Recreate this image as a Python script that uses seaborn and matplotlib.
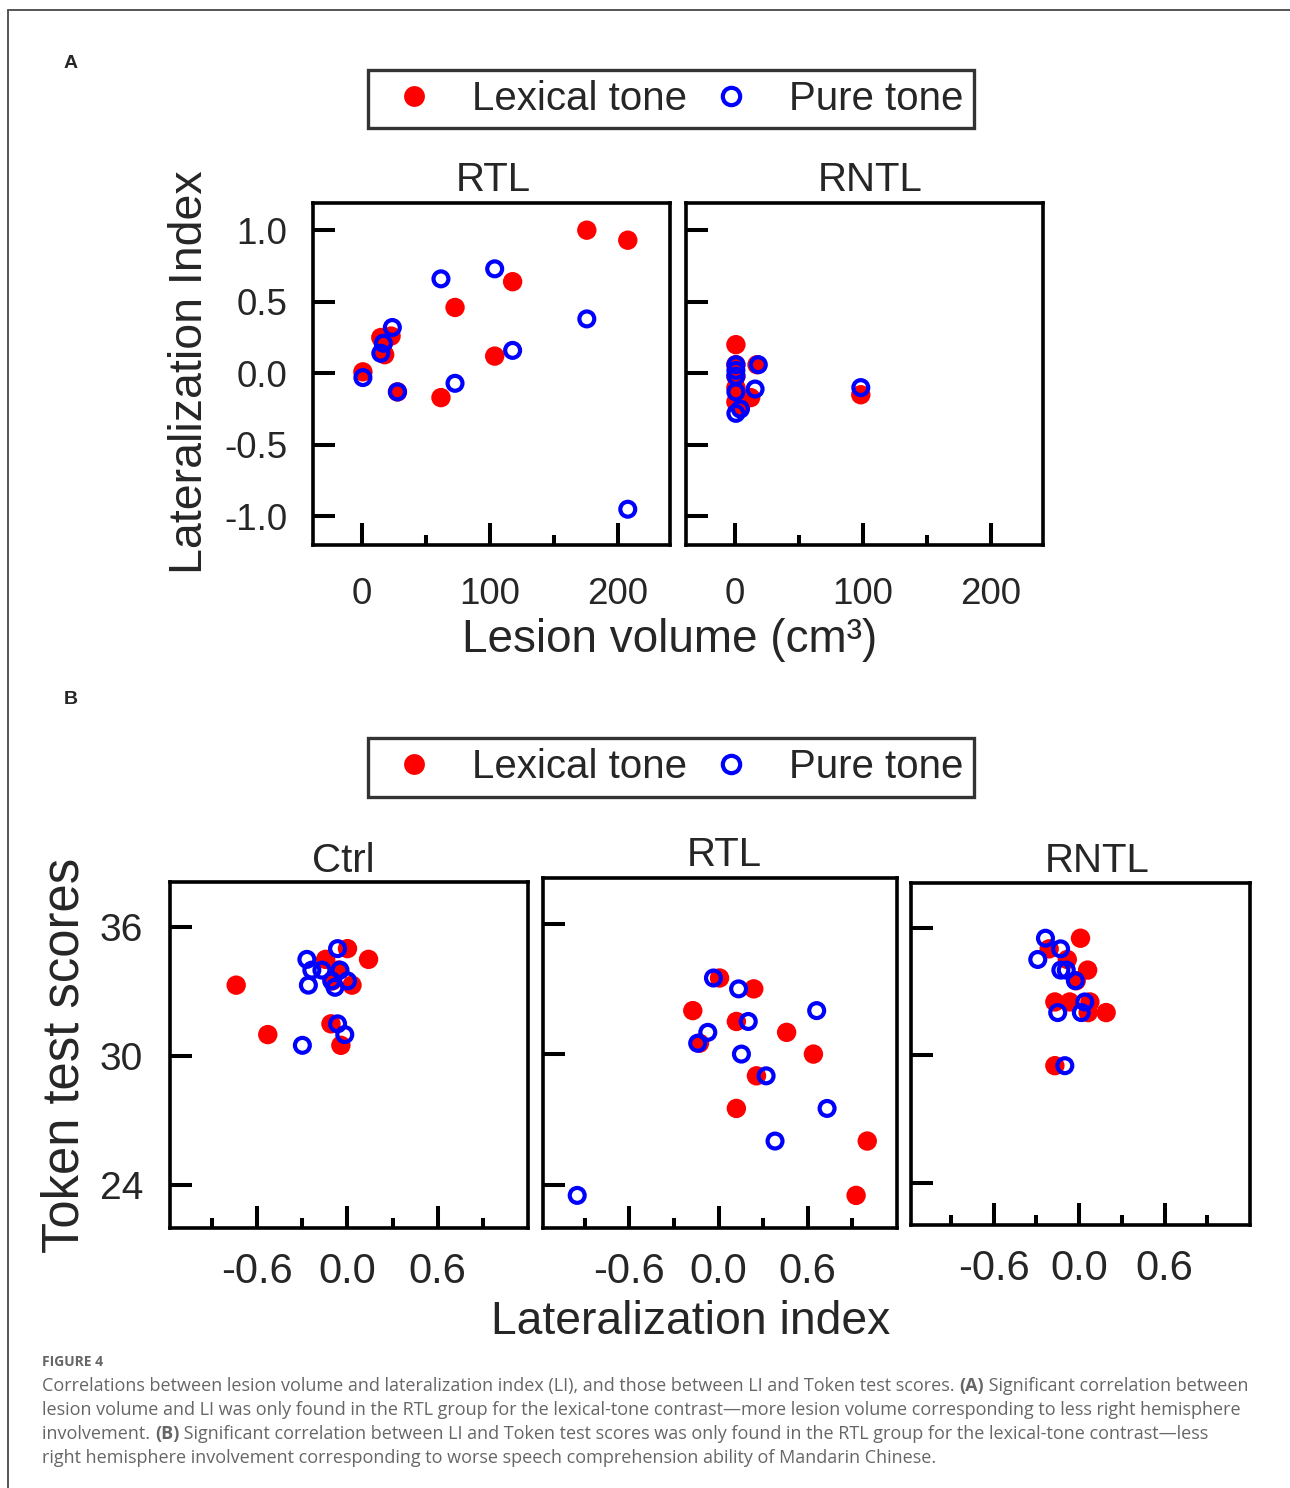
import numpy as np
import matplotlib
matplotlib.use("Agg")
import matplotlib.pyplot as plt
from matplotlib.lines import Line2D
from matplotlib.ticker import FormatStrFormatter
import seaborn as sns

# ---- Panel A: lesion volume (cm3) vs lateralization index ----
rtl_lex_vol = [176, 208, 118, 73, 104, 62, 28, 1, 15, 23, 18, 17]
rtl_lex_li = [1.00, 0.93, 0.64, 0.46, 0.12, -0.17, -0.13, 0.01, 0.25, 0.26, 0.13, 0.21]
rtl_pure_vol = [104, 62, 176, 118, 73, 28, 1, 24, 17, 15, 208]
rtl_pure_li = [0.73, 0.66, 0.38, 0.16, -0.07, -0.13, -0.03, 0.32, 0.21, 0.14, -0.95]

rntl_lex_vol = [1, 1, 17.5, 12.5, 1, 4.5, 1, 1, 98.6]
rntl_lex_li = [0.20, 0.06, 0.06, -0.17, -0.20, -0.24, -0.10, -0.02, -0.15]
rntl_pure_vol = [98.6, 18.5, 16, 1, 1, 1, 1, 4.5, 1]
rntl_pure_li = [-0.10, 0.06, -0.11, -0.28, -0.13, -0.02, 0.06, -0.25, 0.02]

# ---- Panel B: lateralization index vs Token test scores ----
ctrl_lex_li = [-0.74, -0.53, 0.14, 0.0, -0.145, -0.06, 0.03, -0.11, -0.044, -0.10]
ctrl_lex_score = [33.3, 31.0, 34.5, 35.0, 34.5, 34.0, 33.3, 31.5, 30.5, 33.5]
ctrl_pure_li = [-0.066, -0.27, -0.237, -0.17, -0.05, -0.26, -0.105, -0.083, 0.0, -0.066, -0.018, -0.30]
ctrl_pure_score = [35.0, 34.5, 34.0, 34.0, 34.0, 33.3, 33.5, 33.2, 33.5, 31.5, 31.0, 30.5]

rtlb_lex_li = [0.007, 0.237, -0.173, 0.12, 0.458, -0.128, 0.638, 0.255, 0.12, 1.0, 0.925]
rtlb_lex_score = [33.5, 33.0, 32.0, 31.5, 31.0, 30.5, 30.0, 29.0, 27.5, 26.0, 23.5]
rtlb_pure_li = [-0.034, 0.135, 0.66, 0.2, -0.072, -0.14, 0.154, 0.32, 0.73, 0.38, -0.95]
rtlb_pure_score = [33.5, 33.0, 32.0, 31.5, 31.0, 30.5, 30.0, 29.0, 27.5, 26.0, 23.5]

rntlb_lex_li = [0.01, -0.21, -0.083, 0.06, -0.02, -0.17, -0.066, 0.076, 0.19, 0.064, -0.17]
rntlb_lex_score = [35.5, 35.0, 34.5, 34.0, 33.5, 32.5, 32.5, 32.5, 32.0, 32.0, 29.5]
rntlb_pure_li = [-0.236, -0.13, -0.29, -0.128, -0.09, -0.026, 0.04, -0.15, 0.016, -0.1]
rntlb_pure_score = [35.5, 35.0, 34.5, 34.0, 34.0, 33.5, 32.5, 32.0, 32.0, 29.5]

legend_labels = ["Lexical tone", "Pure tone"]

RED = "#FF0000"
BLUE = "#0000FF"
GREY = "#666666"

sns.set_theme(style="white")
plt.rcParams["font.family"] = ["Liberation Sans", "DejaVu Sans"]
plt.rcParams["axes.unicode_minus"] = False

W, H = 1290, 1488
fig = plt.figure(figsize=(W / 100, H / 100), dpi=100)


def px_rect(l, t, r, b):
    return [l / W, 1 - b / H, (r - l) / W, (b - t) / H]


def fx(x):
    return x / W


def fy(y):
    return 1 - y / H


def draw_pair(ax, xl, yl, xp, yp):
    sns.scatterplot(x=xl, y=yl, ax=ax, color=RED, edgecolor="none",
                    s=195, linewidth=0, zorder=3)
    sns.scatterplot(x=xp, y=yp, ax=ax, facecolor="none", edgecolor=BLUE,
                    s=115, linewidth=3.0, zorder=4)
    ax.set_xlabel("")
    ax.set_ylabel("")


def style_axes(ax, title, title_x, title_pad, xsize, ysize, xpad, ypad, show_y):
    for sp in ax.spines.values():
        sp.set_color("black")
        sp.set_linewidth(2.6)
    ax.tick_params(which="both", direction="in", bottom=True, left=True,
                   top=False, right=False, width=2.9, color="black")
    ax.tick_params(which="major", length=15.8)
    ax.tick_params(which="minor", length=7.2)
    ax.tick_params(axis="x", labelsize=xsize, pad=xpad)
    ax.tick_params(axis="y", labelsize=ysize, pad=ypad, labelleft=show_y)
    ax.set_title(title, fontsize=29, pad=title_pad, x=title_x)


# ---- Panel A ----
axA1 = fig.add_axes(px_rect(313, 203, 670, 545))
axA2 = fig.add_axes(px_rect(686, 203, 1043, 545))
draw_pair(axA1, rtl_lex_vol, rtl_lex_li, rtl_pure_vol, rtl_pure_li)
draw_pair(axA2, rntl_lex_vol, rntl_lex_li, rntl_pure_vol, rntl_pure_li)
for ax, name, tx, show_y in [(axA1, "RTL", 0.504, True), (axA2, "RNTL", 0.515, False)]:
    ax.set_xlim(-38, 241)
    ax.set_ylim(-1.2, 1.19)
    ax.set_xticks([0, 100, 200])
    ax.set_xticks([50, 150], minor=True)
    ax.set_yticks([-1.0, -0.5, 0.0, 0.5, 1.0])
    ax.yaxis.set_major_formatter(FormatStrFormatter("%.1f"))
    style_axes(ax, name, tx, 8.6, 26.5, 26.5, 23, 18.7, show_y)

fig.text(fx(190), fy(372), "Lateralization Index", rotation=90,
         fontsize=33.5, ha="center", va="center")
fig.text(fx(670), fy(640), "Lesion volume (cm³)", fontsize=33,
         ha="center", va="center")

# ---- Panel B ----
axB1 = fig.add_axes(px_rect(170, 882, 528, 1228))
axB2 = fig.add_axes(px_rect(543, 878, 897, 1228))
axB3 = fig.add_axes(px_rect(911, 883, 1250, 1225))
draw_pair(axB1, ctrl_lex_li, ctrl_lex_score, ctrl_pure_li, ctrl_pure_score)
draw_pair(axB2, rtlb_lex_li, rtlb_lex_score, rtlb_pure_li, rtlb_pure_score)
draw_pair(axB3, rntlb_lex_li, rntlb_lex_score, rntlb_pure_li, rntlb_pure_score)
for ax, name, tx, pad, show_y in [(axB1, "Ctrl", 0.483, 7, True),
                                  (axB2, "RTL", 0.511, 8.6, False),
                                  (axB3, "RNTL", 0.549, 8, False)]:
    ax.set_xlim(-1.18, 1.2)
    ax.set_ylim(22.0, 38.1)
    ax.set_xticks([-0.6, 0.0, 0.6])
    ax.set_xticks([-0.9, -0.3, 0.3, 0.9], minor=True)
    ax.set_yticks([24, 30, 36])
    ax.xaxis.set_major_formatter(FormatStrFormatter("%.1f"))
    style_axes(ax, name, tx, pad, 30, 28, 17, 19.4, show_y)

fig.text(fx(65), fy(1055), "Token test scores", rotation=90,
         fontsize=36.5, ha="center", va="center")
fig.text(fx(691), fy(1322), "Lateralization index", fontsize=33.3,
         ha="center", va="center")

# ---- legends ----
handles = [
    Line2D([], [], marker="o", ls="none", color=RED, markersize=15,
           markeredgewidth=0),
    Line2D([], [], marker="o", ls="none", markerfacecolor="none",
           markeredgecolor=BLUE, markersize=12.5, markeredgewidth=3.0),
]
for cy in [99, 767.5]:
    leg = fig.legend(handles, legend_labels, loc="center",
                     bbox_to_anchor=(fx(671), fy(cy)), ncol=2, fontsize=29,
                     frameon=True, fancybox=False, edgecolor="black",
                     borderpad=0.26, handlelength=1.74, handletextpad=0.57,
                     columnspacing=0.22, borderaxespad=0)
    leg.get_frame().set_linewidth(2.4)

fig.text(fx(71), fy(64), "A", fontsize=14, fontweight="bold", ha="center", va="center")
fig.text(fx(71), fy(699), "B", fontsize=14, fontweight="bold", ha="center", va="center")

# ---- border ----
fig.add_artist(Line2D([fx(8), 1.0], [fy(10), fy(10)], color="#555555", lw=1.4))
fig.add_artist(Line2D([fx(8), fx(8)], [fy(10), 0.0], color="#555555", lw=1.4))

# ---- caption ----
cap = fig.add_axes([0, 0, 1, 1])
cap.set_axis_off()
cap.patch.set_alpha(0)
cap_font = ["Open Sans", "DejaVu Sans"]
cap.text(fx(42), fy(1362), "FIGURE 4", fontsize=10, fontweight="bold",
         color=GREY, family=cap_font, va="center", ha="left",
         transform=fig.transFigure)

lines = [
    [("Correlations between lesion volume and lateralization index (LI), and those between LI and Token test scores. ", "normal"),
     ("(A)", "bold"), (" Significant correlation between", "normal")],
    [("lesion volume and LI was only found in the RTL group for the lexical-tone contrast\u2014more lesion volume corresponding to less right hemisphere", "normal")],
    [("involvement. ", "normal"), ("(B)", "bold"),
     (" Significant correlation between LI and Token test scores was only found in the RTL group for the lexical-tone contrast\u2014less", "normal")],
    [("right hemisphere involvement corresponding to worse speech comprehension ability of Mandarin Chinese.", "normal")],
]
for i, segs in enumerate(lines):
    y = fy(1386 + 24 * i)
    prev = None
    for txt, wt in segs:
        if prev is None:
            prev = cap.text(fx(42), y, txt, fontsize=13, fontweight=wt,
                            color=GREY, family=cap_font, va="center",
                            ha="left", transform=fig.transFigure)
        else:
            prev = cap.annotate(txt, xy=(1, 0), xycoords=prev, fontsize=13,
                                fontweight=wt, color=GREY, family=cap_font,
                                va="bottom", ha="left")

fig.savefig("out.png", dpi=100)
